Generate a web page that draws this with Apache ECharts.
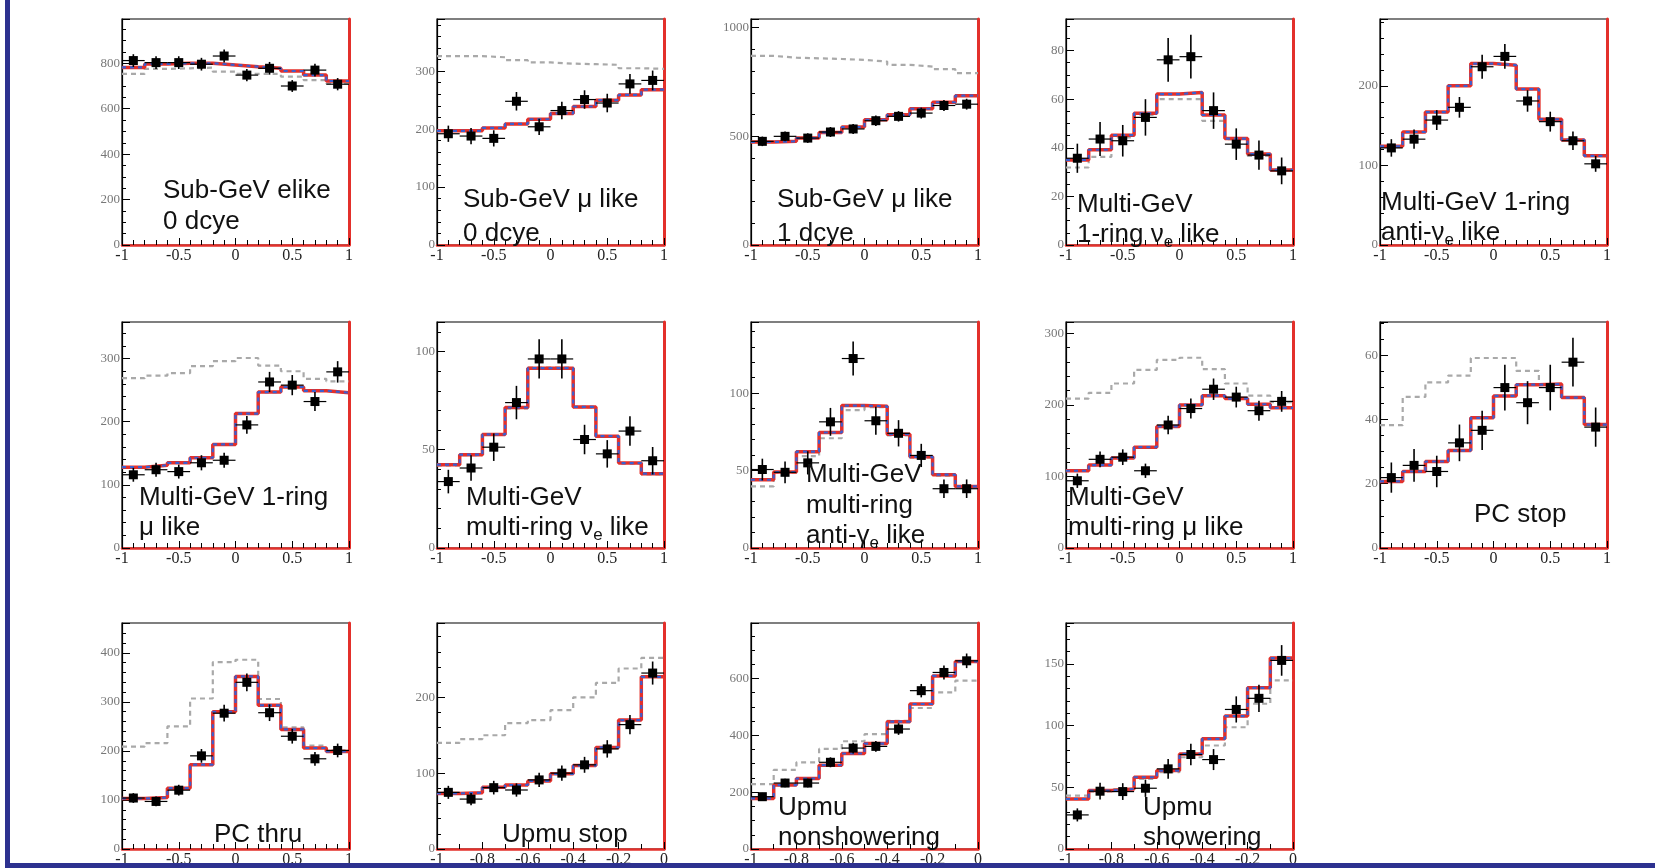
<!DOCTYPE html>
<html><head><meta charset="utf-8">
<script src="https://cdn.jsdelivr.net/npm/echarts@6/dist/echarts.min.js"></script>
<style>html,body{margin:0;padding:0;background:#fff}#c{width:1655px;height:868px}</style>
</head><body><div id="c"></div>
<script>
// ---------- bin edges ----------
const edgesCos = [-1,-0.8,-0.6,-0.4,-0.2,0,0.2,0.4,0.6,0.8,1];
const edgesUp  = [-1,-0.9,-0.8,-0.7,-0.6,-0.5,-0.4,-0.3,-0.2,-0.1,0];

// ---------- panel data: data points, errors, oscillated MC, no-oscillation MC ----------
const p1Data = [812,803,803,796,832,748,778,700,770,708];
const p1Err  = [28,28,28,28,29,27,28,26,28,27];
const p1Osc  = [782,797,800,800,793,785,778,766,748,722];
const p1No   = [753,775,778,781,763,753,753,741,726,711];

const p2Data = [192,188,184,248,204,232,251,245,278,284];
const p2Err  = [14,14,14,16,14,15,16,16,17,17];
const p2Osc  = [197,197,202,209,217,227,239,250,259,268];
const p2No   = [326,326,324,319,315,313,312,311,305,304];

const p3Data = [477,500,492,520,534,572,592,607,642,648];
const p3Err  = [22,22,22,23,23,24,24,25,25,25];
const p3Osc  = [474,477,492,518,543,576,599,627,657,687];
const p3No   = [870,862,859,856,852,844,829,821,809,791];

const p4Data = [35.7,43.6,42.9,52.5,76.2,77.5,55.3,41.5,37.0,30.5];
const p4Err  = [6,7,6.5,7.5,9,9,7.5,6.5,6,5.5];
const p4Osc  = [35,39.2,45.2,54.2,62.1,62.8,53.5,43.8,37.4,30.9];
const p4No   = [31.9,36.3,44.3,53.5,60,60,51.1,43.6,36.7,30.9];

const p5Data = [122,133,157,173,224,237,181,155,131,102];
const p5Err  = [11,12,12.5,13,15,15.5,13.5,12.5,11.5,10];
const p5Osc  = [124,142,167,200,228,226,196,158,132,112];
const p5No   = [124,142,167,200,228,226,196,158,132,112];

const p6Data = [116,124,121,135,139,195,263,258,232,279];
const p6Err  = [11,11,11,12,12,14,16,16,15,17];
const p6Osc  = [128,131,135,143,164,213,247,255,249,246];
const p6No   = [269,273,277,288,296,301,289,280,268,264];

const p7Data = [33.8,40.7,51.3,74,96.2,96.2,55.2,47.9,59.5,44.4];
const p7Err  = [6,6.5,7,8.5,10,10,7.5,7,7.5,7];
const p7Osc  = [42.4,47.5,57.8,71.5,91.5,91.5,71.8,56.9,43.2,37.8];
const p7No   = [42,47.2,57.5,71,91.8,91.8,71.5,56.5,43,37.5];

const p8Data = [50.7,48.9,55,81.5,122.4,82.2,74.1,59.8,38.3,38.3];
const p8Err  = [7,7,7.5,9,11,9,8.5,7.5,6,6];
const p8Osc  = [44.1,49.1,62.2,74.6,92,91.5,73.5,58.9,47.4,39.8];
const p8No   = [39.8,48.5,59.3,70.9,89.1,91,72.8,58.3,46.7,39.3];

const p9Data = [94,124,127,108,172,195,222,211,192,205];
const p9Err  = [10,11,11,10,13,14,15,14.5,14,14.5];
const p9Osc  = [108,116,126,141,170,200,213,209,201,196];
const p9No   = [209,217,230,249,263,266,250,230,213,204];

const p10Data = [21.9,25.7,23.8,32.7,36.6,49.9,45.2,49.9,57.8,37.6];
const p10Err  = [4.7,5.1,4.9,5.7,6.1,7.1,6.7,7.1,7.6,6.1];
const p10Osc  = [20.7,23.8,26.9,30.3,40.5,47.3,50.8,51,46.8,38.4];
const p10No   = [38.2,47,51.5,53.6,59.1,59.1,55.1,51,46.8,38.4];

const p11Data = [104,97,120,190,277,340,278,230,184,201];
const p11Err  = [10,10,11,14,17,18,17,15,14,14];
const p11Osc  = [103,105,124,172,280,352,293,244,206,199];
const p11No   = [209,216,250,307,381,386,306,248,211,201];

const p12Data = [74.7,65.8,80.9,77.8,91.1,100,111,132,164,232];
const p12Err  = [8.6,8.1,9,8.8,9.5,10,10.5,11.5,12.8,15.2];
const p12Osc  = [73.3,74.2,81.3,84.4,89.8,99.1,110,134,170,227];
const p12No   = [140,145,150,166,170,183,200,219,238,252];

const p13Data = [184,232,232,305,355,361,422,557,621,662];
const p13Err  = [13.6,15.2,15.2,17.5,18.8,19,20.5,23.6,24.9,25.7];
const p13Osc  = [178,225,248,295,336,371,448,510,609,660];
const p13No   = [228,278,305,352,379,404,451,496,551,592];

const p14Data = [27.6,46.8,46.5,49.2,64.9,76.5,72.4,113,122,152.7];
const p14Err  = [5.3,6.8,6.8,7,8,8.7,8.5,10.6,11,12.4];
const p14Osc  = [40.5,47.3,48.6,58.1,63.5,77,89.2,107.6,130.5,154.6];
const p14No   = [43.2,46.5,48.6,56.8,62.2,74.3,83.8,98.6,117.6,136.5];

// ---------- y-axis ranges / tick intervals ----------
const yMax      = [995,390,1040,93,284,358,115,146,316,70.3,461,298,795,183];
const yInterval = [200,100,500,20,100,100,50,50,100,20,100,100,200,50];
const yMinor    = [4,5,5,4,5,5,5,5,5,4,5,5,4,5];

// ---------- panel labels ----------
const titles = [
  ['Sub-GeV elike','0 dcye'],
  ['Sub-GeV μ like','0 dcye'],
  ['Sub-GeV μ like','1 dcye'],
  ['Multi-GeV','1-ring ν{s|e} like'],
  ['Multi-GeV 1-ring','anti-ν{s|e} like'],
  ['Multi-GeV 1-ring','μ like'],
  ['Multi-GeV','multi-ring ν{s|e} like'],
  ['Multi-GeV','multi-ring','anti-γ{s|e} like'],
  ['Multi-GeV','multi-ring μ like'],
  ['PC stop'],
  ['PC thru'],
  ['Upmu stop'],
  ['Upmu','nonshowering'],
  ['Upmu','showering']
];

const panelData = [p1Data,p2Data,p3Data,p4Data,p5Data,p6Data,p7Data,p8Data,p9Data,p10Data,p11Data,p12Data,p13Data,p14Data];
const panelErr  = [p1Err,p2Err,p3Err,p4Err,p5Err,p6Err,p7Err,p8Err,p9Err,p10Err,p11Err,p12Err,p13Err,p14Err];
const panelOsc  = [p1Osc,p2Osc,p3Osc,p4Osc,p5Osc,p6Osc,p7Osc,p8Osc,p9Osc,p10Osc,p11Osc,p12Osc,p13Osc,p14Osc];
const panelNo   = [p1No,p2No,p3No,p4No,p5No,p6No,p7No,p8No,p9No,p10No,p11No,p12No,p13No,p14No];
const panelEdges = [edgesCos,edgesCos,edgesCos,edgesCos,edgesCos,edgesCos,edgesCos,edgesCos,edgesCos,edgesCos,edgesCos,edgesUp,edgesUp,edgesUp];

// ---------- layout ----------
const colLeft = [122,437,751,1066,1380];
const rowTop  = [19,322,623];
const PW = 227, PH = 226;
const titlePos = [
  [[163,191],[163,222]],
  [[463,200],[463,234]],
  [[777,200],[777,234]],
  [[1077,205],[1077,235]],
  [[1381,203],[1381,233]],
  [[139,498],[139,528]],
  [[466,498],[466,528]],
  [[806,475],[806,506],[806,536]],
  [[1068,498],[1068,528]],
  [[1474,515]],
  [[214,835]],
  [[502,835]],
  [[778,808],[778,838]],
  [[1143,808],[1143,838]]
];

const RED = '#e3302b', BLUE = '#3a5fd0', GRAY = '#a9a9a9';
const grids=[], xAxes=[], yAxes=[], series=[], graphics=[];
const fmt = v => String(Math.round(v*1000)/1000);

panelData.forEach((d,i)=>{
  const col=i%5, row=Math.floor(i/5);
  const edges = panelEdges[i];
  const up = edges===edgesUp;
  grids.push({left:colLeft[col], top:rowTop[row], width:PW, height:PH, show:true,
    borderColor:'#000', borderWidth:1.2, backgroundColor:'rgba(0,0,0,0)'});
  xAxes.push({gridIndex:i, type:'value', min:edges[0], max:edges[edges.length-1], interval: up?0.2:0.5,
    axisLine:{show:true, onZero:false, lineStyle:{color:RED, width:2.5}},
    axisTick:{show:true, inside:true, length:7, lineStyle:{color:'#000', width:1}},
    minorTick:{show:true, splitNumber: up?2:5, length:5, lineStyle:{color:'#000', width:1}},
    splitLine:{show:false}, minorSplitLine:{show:false},
    axisLabel:{fontFamily:'Liberation Serif', fontSize:16, color:'#222', margin:3, formatter:fmt}});
  yAxes.push({gridIndex:i, type:'value', min:0, max:yMax[i], interval:yInterval[i], position:'left',
    axisLine:{show:true, onZero:false, lineStyle:{color:'#000', width:1.2}},
    axisTick:{show:true, inside:true, length:8, lineStyle:{color:'#000'}},
    minorTick:{show:true, splitNumber:yMinor[i], length:4, lineStyle:{color:'#000'}},
    splitLine:{show:false}, minorSplitLine:{show:false},
    axisLabel:{showMaxLabel:false, fontFamily:'Liberation Serif', fontSize:13, color:'#777', margin:2, formatter:fmt}});
  yAxes.push({gridIndex:i, type:'value', min:0, max:yMax[i], position:'right',
    axisLine:{show:true, onZero:false, lineStyle:{color:RED, width:3}},
    axisTick:{show:false}, axisLabel:{show:false}, splitLine:{show:false}});
  const step = vals => edges.map((e,k)=>[e, vals[Math.min(k, vals.length-1)]]);
  series.push({type:'line', xAxisIndex:i, yAxisIndex:2*i, step:'end', data:step(panelNo[i]),
    symbol:'none', silent:true, lineStyle:{color:GRAY, width:2.2, type:[5,4]}, z:2});
  series.push({type:'line', xAxisIndex:i, yAxisIndex:2*i, step:'end', data:step(panelOsc[i]),
    symbol:'none', silent:true, lineStyle:{color:RED, width:3.5}, z:3});
  series.push({type:'line', xAxisIndex:i, yAxisIndex:2*i, step:'end', data:step(panelOsc[i]),
    symbol:'none', silent:true, lineStyle:{color:BLUE, width:2.2, type:[4,4]}, z:4});
  const pts = d.map((v,k)=>[(edges[k]+edges[k+1])/2, v, panelErr[i][k], (edges[k+1]-edges[k])/2]);
  series.push({type:'custom', xAxisIndex:i, yAxisIndex:2*i, data:pts, z:6, silent:true,
    encode:{x:0, y:1},
    renderItem:(params, api)=>{
      const x=api.value(0), y=api.value(1), e=api.value(2), hw=api.value(3);
      const c=api.coord([x,y]), l=api.coord([x-hw,y]), r=api.coord([x+hw,y]);
      const t=api.coord([x,y+e]), b=api.coord([x,y-e]);
      return {type:'group', children:[
        {type:'line', shape:{x1:l[0],y1:l[1],x2:r[0],y2:r[1]}, style:{stroke:'#000', lineWidth:1.2}},
        {type:'line', shape:{x1:t[0],y1:t[1],x2:b[0],y2:b[1]}, style:{stroke:'#000', lineWidth:1.6}},
        {type:'rect', shape:{x:c[0]-4.5, y:c[1]-4.5, width:9, height:9}, style:{fill:'#000'}}
      ]};
    }});
  titles[i].forEach((line,j)=>{
    const pos = titlePos[i][j];
    graphics.push({type:'text', x:pos[0], y:pos[1], z:100, silent:true,
      style:{text:line, fill:'#111', font:'26px "Liberation Sans", Arial, sans-serif',
        verticalAlign:'middle', align:'left', lineHeight:32,
        rich:{s:{fontSize:17, fontFamily:'Liberation Sans', fill:'#111', verticalAlign:'bottom', lineHeight:12}}}});
  });
});

graphics.push({type:'rect', z:200, silent:true, shape:{x:5, y:0, width:5, height:868}, style:{fill:'#2d318f'}});
graphics.push({type:'rect', z:200, silent:true, shape:{x:5, y:863, width:1650, height:5}, style:{fill:'#2d318f'}});

const chart = echarts.init(document.getElementById('c'), null, {renderer:'canvas'});
chart.setOption({
  animation:false,
  backgroundColor:'#fff',
  grid:grids, xAxis:xAxes, yAxis:yAxes, series:series, graphic:graphics
});
</script></body></html>
